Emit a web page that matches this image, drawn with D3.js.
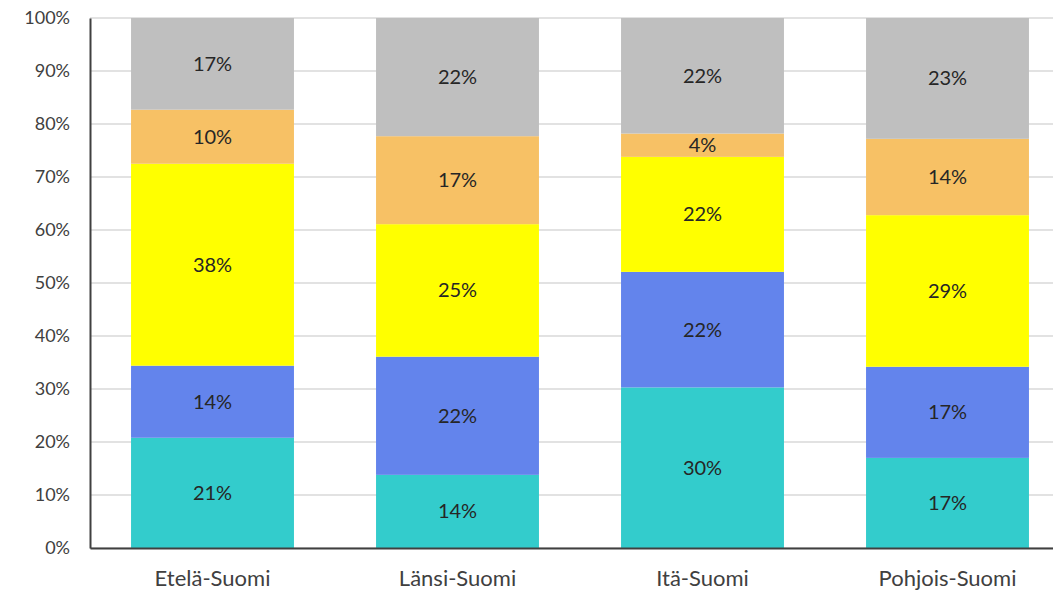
<!DOCTYPE html>
<html>
<head>
<meta charset="utf-8">
<script src="https://cdn.jsdelivr.net/npm/d3@7"></script>
<style>
  body { margin: 0; background: #fff; }
  svg { display: block; font-family: Lato, "Open Sans", sans-serif; }
</style>
</head>
<body>
<div id="chart"></div>
<script>
// regions along x
var regions = ['Etelä-Suomi', 'Länsi-Suomi', 'Itä-Suomi', 'Pohjois-Suomi'];
// series stacked bottom -> top, shares in %
var seriesKeys = ['s1', 's2', 's3', 's4', 's5'];
var s1 = [20.8, 13.8, 30.3, 17.0];
var s2 = [13.6, 22.3, 21.8, 17.2];
var s3 = [38.1, 25.0, 21.7, 28.6];
var s4 = [10.2, 16.6, 4.4, 14.4];
var s5 = [17.3, 22.3, 21.8, 22.8];
var labels = [
    ['21%', '14%', '38%', '10%', '17%'],
    ['14%', '22%', '25%', '17%', '22%'],
    ['30%', '22%', '22%', '4%', '22%'],
    ['17%', '17%', '29%', '14%', '23%']
];
var colors = ['#33cccc', '#6384ec', '#ffff00', '#f7c165', '#bfbfbf'];
var yTicks = [0, 10, 20, 30, 40, 50, 60, 70, 80, 90, 100];

var width = 1053;
var height = 592;
var margin = { top: 18, right: -17, bottom: 44, left: 90 };

var table = regions.map(function (r, i) {
    return { region: r, i: i, s1: s1[i], s2: s2[i], s3: s3[i], s4: s4[i], s5: s5[i] };
});

var x = d3.scaleBand()
    .domain(regions)
    .range([margin.left, width - margin.right])
    .paddingInner(0.335)
    .paddingOuter(0.1675);

var y = d3.scaleLinear()
    .domain([0, 100])
    .range([height - margin.bottom, margin.top]);

var svg = d3.select('#chart')
    .append('svg')
    .attr('width', width)
    .attr('height', height);

// gridlines
svg.append('g')
    .selectAll('line')
    .data(yTicks)
    .join('line')
    .attr('x1', margin.left)
    .attr('x2', width)
    .attr('y1', d => y(d))
    .attr('y2', d => y(d))
    .attr('stroke', '#d9d9d9')
    .attr('stroke-width', 1.5);

var stack = d3.stack().keys(seriesKeys);
var stacked = stack(table);

var layer = svg.append('g')
    .selectAll('g')
    .data(stacked)
    .join('g')
    .attr('fill', (d, i) => colors[i]);

layer.selectAll('rect')
    .data(d => d)
    .join('rect')
    .attr('x', d => x(d.data.region))
    .attr('width', x.bandwidth())
    .attr('y', d => y(d[1]))
    .attr('height', d => y(d[0]) - y(d[1]));

// value labels
layer.each(function (s, k) {
    d3.select(this).selectAll('text')
        .data(s)
        .join('text')
        .attr('x', d => x(d.data.region) + x.bandwidth() / 2)
        .attr('y', d => (y(d[0]) + y(d[1])) / 2)
        .attr('dy', '0.35em')
        .attr('text-anchor', 'middle')
        .attr('fill', '#262626')
        .attr('font-size', 20)
        .text(d => labels[d.data.i][k]);
});

// y axis
var yAxis = g => g
    .attr('transform', `translate(${margin.left},0)`)
    .call(d3.axisLeft(y).tickValues(yTicks).tickFormat(d => d + '%').tickSize(0).tickPadding(20))
    .call(g => g.select('.domain').attr('stroke', '#404040').attr('stroke-width', 2))
    .call(g => g.selectAll('text').attr('fill', '#404040').attr('font-size', 18)
        .attr('font-family', 'Lato, "Open Sans", sans-serif'));
svg.append('g').call(yAxis);

// x axis
var xAxis = g => g
    .attr('transform', `translate(0,${height - margin.bottom})`)
    .call(d3.axisBottom(x).tickSize(0).tickPadding(22).tickSizeOuter(0))
    .call(g => g.select('.domain').attr('stroke', '#404040').attr('stroke-width', 2))
    .call(g => g.selectAll('text').attr('fill', '#404040').attr('font-size', 22)
        .attr('font-family', 'Lato, "Open Sans", sans-serif'));
svg.append('g').call(xAxis);
</script>
</body>
</html>
